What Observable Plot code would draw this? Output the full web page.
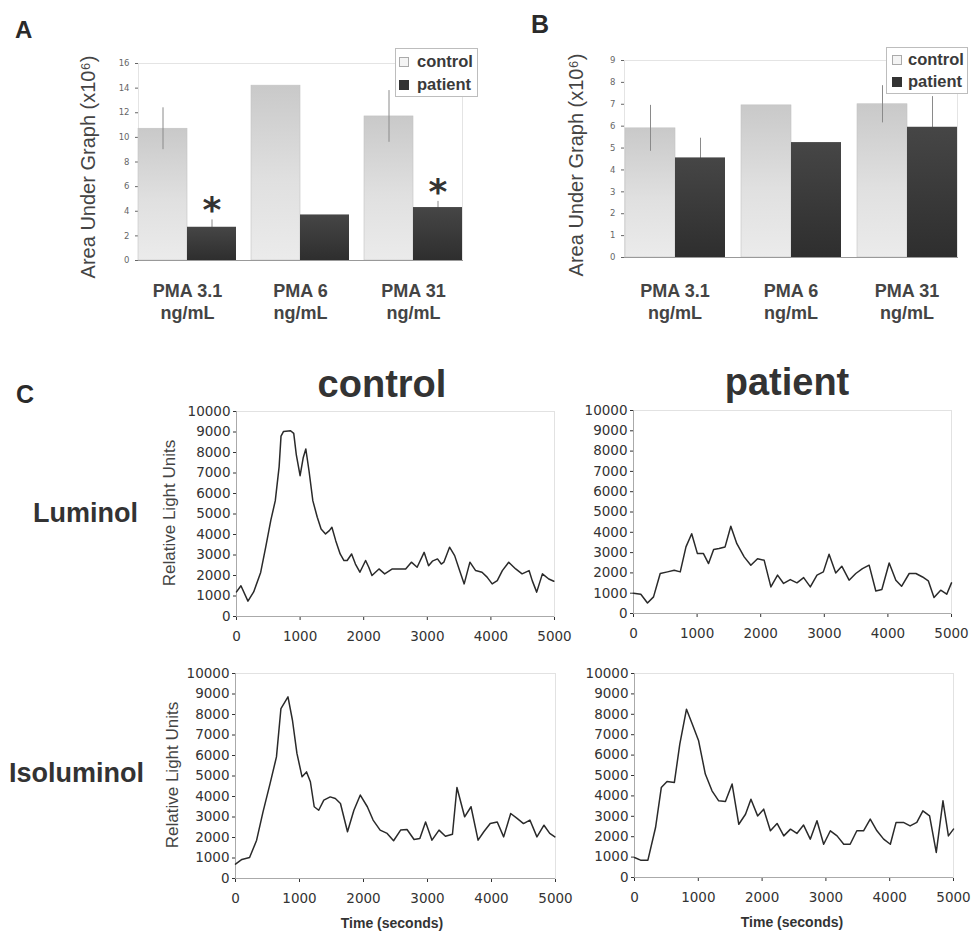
<!DOCTYPE html>
<html><head><meta charset="utf-8">
<script src="https://cdn.jsdelivr.net/npm/d3@7"></script>
<script src="https://cdn.jsdelivr.net/npm/@observablehq/plot@0.6"></script>
<style>
body{margin:0;background:#fff;}
#fig{position:relative;width:973px;height:934px;overflow:hidden;background:#fff;font-family:"Liberation Sans",Arial,sans-serif;color:#333}
#fig svg.p{position:absolute;overflow:visible}
.lg{position:absolute;border:1px solid #bdbdbd;background:#fff;box-sizing:border-box}
.sw{position:absolute;width:10px;height:10px;box-sizing:border-box}
</style></head><body>
<svg width="0" height="0" style="position:absolute"><defs>
<linearGradient id="ctrlGrad" x1="0" y1="0" x2="0" y2="1"><stop offset="0" stop-color="#c9c9c9"/><stop offset="0.55" stop-color="#e0e0e0"/><stop offset="1" stop-color="#ebebeb"/></linearGradient>
<linearGradient id="patGrad" x1="0" y1="0" x2="0" y2="1"><stop offset="0" stop-color="#464646"/><stop offset="1" stop-color="#2e2e2e"/></linearGradient>
</defs></svg>
<div id="fig"></div>
<script>
// ---------- data ----------
const categories = ["PMA 3.1 ng/mL", "PMA 6 ng/mL", "PMA 31 ng/mL"];
const groups = ["control", "patient"];
// Panel A (x10^6)
const aControl = [10.7, 14.2, 11.7];
const aPatient = [2.7, 3.7, 4.3];
const aControlErr = [1.7, 0, 2.1];
const aPatientErr = [0.6, 0, 0.5];
const aSignificant = [true, false, true];
const aTicks = [0, 2, 4, 6, 8, 10, 12, 14, 16];
// Panel B (x10^6)
const bControl = [5.9, 6.95, 7.0];
const bPatient = [4.55, 5.25, 5.95];
const bControlErr = [1.05, 0, 0.85];
const bPatientErr = [0.9, 0, 1.4];
const bSignificant = [false, false, false];
const bTicks = [0, 1, 2, 3, 4, 5, 6, 7, 8, 9];
// Panel C
const timeTicks = [0, 1000, 2000, 3000, 4000, 5000];
const rluTicks = [0, 1000, 2000, 3000, 4000, 5000, 6000, 7000, 8000, 9000, 10000];
const lumControlT = [0,70,180,270,380,460,540,610,670,700,740,850,900,940,1000,1050,1090,1140,1200,1270,1330,1400,1460,1500,1560,1630,1690,1740,1810,1870,1940,2030,2080,2130,2240,2330,2450,2550,2660,2750,2840,2950,3020,3080,3160,3220,3260,3350,3430,3500,3580,3670,3760,3860,3940,4020,4100,4180,4280,4390,4490,4600,4650,4720,4810,4910,4990];
const lumControlV = [1200,1500,750,1200,2150,3400,4700,5650,7300,8800,9030,9060,8930,7900,6870,7760,8170,7110,5650,4840,4270,4030,4190,4350,3700,3050,2730,2730,3050,2560,2160,2730,2400,2000,2320,2080,2320,2320,2320,2650,2400,3130,2480,2700,2810,2560,2650,3380,2970,2320,1590,2650,2240,2160,1920,1590,1750,2240,2650,2320,2080,2240,1750,1190,2080,1830,1720];
const lumPatientT = [0,115,220,315,420,535,640,735,825,915,1005,1100,1180,1260,1345,1440,1530,1625,1740,1845,1950,2055,2160,2265,2360,2465,2570,2675,2780,2885,2985,3075,3180,3275,3390,3495,3600,3705,3810,3905,4020,4125,4215,4335,4440,4545,4635,4725,4830,4925,5000];
const lumPatientV = [1000,950,520,820,1970,2050,2130,2050,3280,3930,2950,2950,2460,3150,3200,3280,4300,3440,2790,2380,2700,2620,1310,1890,1480,1670,1510,1770,1310,1890,2050,2920,2000,2330,1640,1970,2210,2380,1110,1180,2490,1640,1340,1970,1970,1800,1610,790,1150,950,1510];
const isoControlT = [0,100,220,330,430,540,640,710,820,890,960,1040,1110,1170,1230,1300,1380,1480,1560,1640,1750,1850,1950,2060,2150,2260,2370,2470,2580,2680,2790,2880,2970,3070,3180,3280,3390,3460,3580,3680,3790,3880,3980,4090,4190,4300,4400,4500,4600,4710,4820,4910,4990];
const isoControlV = [700,930,1020,1870,3250,4630,5930,8290,8860,7720,6100,4960,5200,4720,3500,3330,3820,3980,3900,3660,2280,3330,4070,3500,2850,2360,2200,1840,2360,2390,1900,1950,2760,1870,2360,2060,2160,4440,3010,3500,1870,2280,2680,2760,2030,3170,2930,2680,2850,2030,2600,2200,2030];
const isoPatientT = [0,95,210,330,420,510,625,710,815,905,1005,1110,1215,1320,1425,1530,1635,1740,1825,1930,2025,2130,2235,2340,2445,2545,2650,2755,2860,2965,3070,3175,3280,3380,3485,3590,3695,3800,3905,4010,4100,4215,4320,4425,4520,4625,4730,4835,4920,5000];
const isoPatientV = [980,850,850,2450,4410,4710,4660,6540,8250,7520,6700,5070,4250,3760,3730,4580,2610,3100,3840,3020,3350,2290,2650,2040,2370,2160,2570,1880,2780,1630,2290,2040,1630,1630,2290,2290,2860,2290,1880,1630,2700,2700,2530,2700,3270,3020,1230,3760,2040,2370];

// ---------- helpers ----------
const fig = document.getElementById("fig");
const SANS = '"Liberation Sans", Arial, sans-serif';
function addPlot(svg, left, top) {
  svg.classList.add("p");
  svg.style.left = left + "px";
  svg.style.top = top + "px";
  fig.appendChild(svg);
}
function label(text, x, baseline, size, o = {}) {
  const d = document.createElement("div");
  d.textContent = text;
  d.style.cssText = `position:absolute;left:${x}px;top:${baseline - 0.8465 * size}px;font-size:${size}px;line-height:${size}px;white-space:nowrap;font-weight:${o.weight || "normal"};color:${o.color || "#333"};font-family:${o.font || SANS};letter-spacing:${o.ls || 0}px;` + (o.center ? "transform:translateX(-50%);" : "");
  fig.appendChild(d);
  return d;
}
function vlabel(text, cx, cy, size, o = {}) {
  const d = document.createElement("div");
  d.textContent = text;
  d.style.cssText = `position:absolute;left:${cx}px;top:${cy}px;font-size:${size}px;line-height:${size}px;white-space:nowrap;color:${o.color || "#444"};font-weight:${o.weight || "normal"};font-family:${SANS};transform:translate(-50%,-50%) rotate(-90deg);`;
  fig.appendChild(d);
}
function legend(left, top, w, h, swX, textX, baselines) {
  const box = document.createElement("div");
  box.className = "lg";
  box.style.cssText += `left:${left}px;top:${top}px;width:${w}px;height:${h}px;`;
  fig.appendChild(box);
  groups.forEach((g, i) => {
    const s = document.createElement("div");
    s.className = "sw";
    s.style.left = swX + "px";
    s.style.top = (baselines[i] - 10) + "px";
    s.style.background = g === "control" ? "#f4f4f4" : "#333";
    s.style.border = g === "control" ? "1px solid #aaa" : "1px solid #333";
    fig.appendChild(s);
    label(g, textX, baselines[i], 16.5, {weight: "bold", color: "#3a3a3a"});
  });
}

function barPanel(o) {
  const rows = categories.flatMap((c, i) => [
    {cat: c, group: "control", v: o.ctrl[i], e: o.cErr[i], sig: false},
    {cat: c, group: "patient", v: o.pat[i], e: o.pErr[i], sig: o.sig[i]}
  ]);
  return Plot.plot({
    width: o.width, height: 330,
    marginLeft: o.mL, marginRight: o.mR, marginTop: o.mT, marginBottom: o.mB,
    style: {fontFamily: '"DejaVu Sans", sans-serif', fontSize: "8.5px", color: "#666", background: "transparent", overflow: "visible"},
    fx: {domain: categories, paddingInner: 0.13, paddingOuter: 0.087, axis: null, label: null},
    x: {domain: groups, padding: 0, axis: null},
    y: {domain: [0, o.yMax], ticks: o.ticks, tickSize: 3, tickPadding: 6, line: true, label: null, tickFormat: d => String(d)},
    marks: [
      Plot.frame({facet: "super", stroke: "#e4e4e4"}),
      Plot.barY(rows.filter(d => d.group === "control"), {fx: "cat", x: "group", y: "v", fill: "url(#ctrlGrad)", stroke: "#c2c2c2", strokeWidth: 0.6}),
      Plot.ruleX(rows.filter(d => d.e > 0), {fx: "cat", x: "group", y1: d => d.v - d.e, y2: d => d.v + d.e, stroke: "#8a8a8a", strokeWidth: 1}),
      Plot.barY(rows.filter(d => d.group === "patient"), {fx: "cat", x: "group", y: "v", fill: "url(#patGrad)"}),
      Plot.frame({facet: "super", anchor: "bottom", stroke: "#999"}),
      Plot.text(rows.filter(d => d.sig), {fx: "cat", x: "group", y: d => d.v + d.e, text: () => "*", dy: -9, fontSize: 36, fontWeight: "bold", fill: "#333", fontFamily: '"DejaVu Sans", sans-serif'}),
      Plot.text(categories, {fx: d => d, text: d => d.replace(" ng/mL", "\nng/mL"), frameAnchor: "bottom", lineAnchor: "top", dy: o.labelDy, fontSize: 18, fontWeight: "bold", lineHeight: 1.17, fill: "#444", fontFamily: SANS})
    ]
  });
}

function linePanel(t, v, o) {
  const rows = t.map((d, i) => ({t: d, v: v[i]}));
  return Plot.plot({
    width: o.width, height: o.height,
    marginLeft: o.mL, marginRight: o.mR, marginTop: o.mT, marginBottom: o.mB,
    style: {fontFamily: '"DejaVu Sans", sans-serif', fontSize: "13.5px", color: "#333", background: "transparent", overflow: "visible"},
    x: {domain: [0, 5000], ticks: timeTicks, tickSize: 4, tickPadding: 11, label: null, tickFormat: d => String(d)},
    y: {domain: [0, 10000], ticks: rluTicks, tickSize: 3, tickPadding: 3, label: null, tickFormat: d => String(d)},
    marks: [
      Plot.frame({stroke: "#e2e2e2"}),
      Plot.ruleX([0], {stroke: "#aaa"}),
      Plot.ruleY([0], {stroke: "#aaa"}),
      Plot.line(rows, {x: "t", y: "v", stroke: "#2a2a2a", strokeWidth: 1.5})
    ]
  });
}

// ---------- Panel A ----------
addPlot(barPanel({ctrl: aControl, pat: aPatient, cErr: aControlErr, pErr: aPatientErr, sig: aSignificant,
  yMax: 16, ticks: aTicks, width: 490, mL: 127, mR: 17, mT: 63, mB: 70, labelDy: 22}), 0, 0);
label("A", 15, 38, 24, {weight: "bold", color: "#2a2a2a"});
vlabel("Area Under Graph (x10\u2076)", 88, 167, 20);
legend(395, 48, 83, 49, 399, 417, [67, 90]);

// ---------- Panel B ----------
addPlot(barPanel({ctrl: bControl, pat: bPatient, cErr: bControlErr, pErr: bPatientErr, sig: bSignificant,
  yMax: 9, ticks: bTicks, width: 483, mL: 123, mR: 5, mT: 60, mB: 73, labelDy: 25}), 490, 0);
label("B", 531, 33, 25, {weight: "bold", color: "#2a2a2a"});
vlabel("Area Under Graph (x10\u2076)", 576, 165, 20);
legend(886, 47, 82, 47, 892, 908, [65, 87]);

// ---------- Panel C ----------
label("C", 16, 403, 25, {weight: "bold", color: "#2a2a2a"});
label("control", 382, 397, 38, {weight: "bold", center: true, color: "#333"});
label("patient", 787, 395, 38, {weight: "bold", center: true, color: "#333"});
label("Luminol", 33, 523, 27, {weight: "bold", color: "#333"});
label("Isoluminol", 9, 783, 27, {weight: "bold", color: "#333"});

addPlot(linePanel(lumControlT, lumControlV, {width: 420, height: 250, mL: 86, mR: 16, mT: 16, mB: 29}), 150, 395);
addPlot(linePanel(lumPatientT, lumPatientV, {width: 413, height: 250, mL: 73, mR: 22, mT: 15, mB: 32}), 560, 395);
addPlot(linePanel(isoControlT, isoControlV, {width: 420, height: 260, mL: 85, mR: 15, mT: 18, mB: 37}), 150, 655);
addPlot(linePanel(isoPatientT, isoPatientV, {width: 413, height: 260, mL: 74, mR: 20, mT: 18, mB: 38}), 560, 655);

vlabel("Relative Light Units", 169, 513, 17);
vlabel("Relative Light Units", 172, 775, 17);
label("Time (seconds)", 392, 928, 14, {weight: "bold", center: true, color: "#333"});
label("Time (seconds)", 792, 927, 14, {weight: "bold", center: true, color: "#333"});
</script>
</body></html>
